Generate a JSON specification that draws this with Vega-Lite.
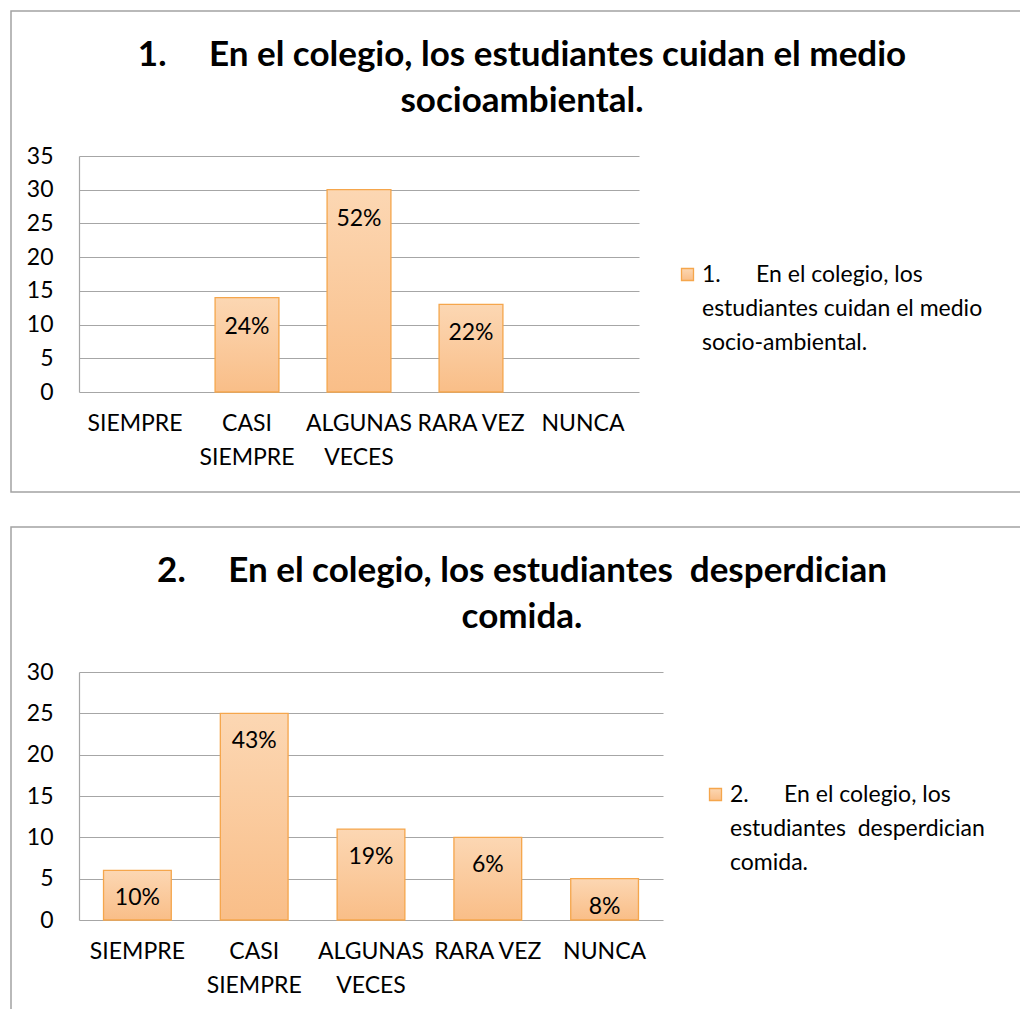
{
  "$schema": "https://vega.github.io/schema/vega-lite/v6.json",
  "padding": {"left": 10, "top": 10, "right": 0, "bottom": 0},
  "background": "white",
  "spacing": 33,
  "resolve": {"scale": {"stroke": "independent"}, "legend": {"stroke": "independent"}},
  "config": {
    "font": "Lato",
    "view": {"stroke": "#a3a3a3", "strokeWidth": 1.5},
    "style": {"guide-label": {"lineHeight": 34}},
    "axis": {"labelFont": "Lato", "labelFontSize": 23, "labelColor": "#000000", "gridColor": "#a6a6a6", "gridWidth": 1.2, "domainColor": "#a6a6a6", "domainWidth": 1.2, "ticks": false, "title": null},
    "legend": {"labelFont": "Lato", "labelFontSize": 23, "labelColor": "#000000"},
    "title": {"font": "Lato", "fontSize": 35, "fontWeight": "bold", "color": "#000000", "anchor": "middle", "baseline": "bottom", "lineHeight": 46, "offset": -108}
  },
  "vconcat": [
    {
      "width": 1022,
      "height": 481,
      "title": {"text": ["1.\u00a0\u00a0\u00a0\u00a0 En el colegio, los estudiantes cuidan el medio", "socioambiental."]},
      "data": {"values": [
        {"cat": "SIEMPRE", "v": 0, "lab": "", "serie": "s1"},
        {"cat": "CASI SIEMPRE", "v": 14, "lab": "24%", "serie": "s1"},
        {"cat": "ALGUNAS VECES", "v": 30, "lab": "52%", "serie": "s1"},
        {"cat": "RARA VEZ", "v": 13, "lab": "22%", "serie": "s1"},
        {"cat": "NUNCA", "v": 0, "lab": "", "serie": "s1"}
      ]},
      "encoding": {
        "x": {"field": "cat", "type": "nominal", "sort": null,
          "scale": {"domain": ["SIEMPRE", "CASI SIEMPRE", "ALGUNAS VECES", "RARA VEZ", "NUNCA"], "range": [68, 628], "paddingInner": 0.43, "paddingOuter": 0.215},
          "axis": {"offset": -100, "domain": false, "labelAngle": 0, "labelPadding": 20, "labelBaseline": "top",
            "labelExpr": "datum.label == 'CASI SIEMPRE' ? ['CASI', 'SIEMPRE'] : datum.label == 'ALGUNAS VECES' ? ['ALGUNAS', 'VECES'] : datum.label"}},
        "y": {"field": "v", "type": "quantitative",
          "scale": {"domain": [0, 35], "range": [381, 145], "nice": false},
          "axis": {"offset": -68, "values": [0, 5, 10, 15, 20, 25, 30, 35], "labelPadding": 26, "grid": true}}
      },
      "layer": [
        {"transform": [{"filter": "datum.v > 0"}],
         "mark": {"type": "bar", "strokeWidth": 1.3,
          "fill": {"gradient": "linear", "x1": 0, "y1": 0, "x2": 0, "y2": 1, "stops": [{"offset": 0, "color": "#fcd7b3"}, {"offset": 1, "color": "#f9be88"}]}},
         "encoding": {"stroke": {"field": "serie", "type": "nominal", "scale": {"range": ["#f5a64c"]},
           "legend": {"title": null, "orient": "none", "legendX": 665, "legendY": 252, "symbolType": "square", "symbolSize": 144, "symbolFillColor": "#fac89a", "symbolStrokeColor": "#f5a64c", "symbolStrokeWidth": 1.3, "labelLimit": 0, "labelOffset": 3,
             "labelExpr": "['1.\u00a0\u00a0\u00a0\u00a0\u00a0 En el colegio, los', 'estudiantes cuidan el medio', 'socio-ambiental.']"}}}},
        {"mark": {"type": "text", "baseline": "middle", "dy": 29, "fontSize": 23, "font": "Lato", "color": "#000000"},
         "encoding": {"text": {"field": "lab"}}}
      ]
    },
    {
      "width": 1022,
      "height": 490,
      "title": {"text": ["2.\u00a0\u00a0\u00a0\u00a0 En el colegio, los estudiantes\u00a0 desperdician", "comida."]},
      "data": {"values": [
        {"cat": "SIEMPRE", "v": 6, "lab": "10%", "serie": "s2"},
        {"cat": "CASI SIEMPRE", "v": 25, "lab": "43%", "serie": "s2"},
        {"cat": "ALGUNAS VECES", "v": 11, "lab": "19%", "serie": "s2"},
        {"cat": "RARA VEZ", "v": 10, "lab": "6%", "serie": "s2"},
        {"cat": "NUNCA", "v": 5, "lab": "8%", "serie": "s2"}
      ]},
      "encoding": {
        "x": {"field": "cat", "type": "nominal", "sort": null,
          "scale": {"domain": ["SIEMPRE", "CASI SIEMPRE", "ALGUNAS VECES", "RARA VEZ", "NUNCA"], "range": [68, 652], "paddingInner": 0.42, "paddingOuter": 0.21},
          "axis": {"offset": -97, "domain": false, "labelAngle": 0, "labelPadding": 20, "labelBaseline": "top",
            "labelExpr": "datum.label == 'CASI SIEMPRE' ? ['CASI', 'SIEMPRE'] : datum.label == 'ALGUNAS VECES' ? ['ALGUNAS', 'VECES'] : datum.label"}},
        "y": {"field": "v", "type": "quantitative",
          "scale": {"domain": [0, 30], "range": [393, 145], "nice": false},
          "axis": {"offset": -68, "values": [0, 5, 10, 15, 20, 25, 30], "labelPadding": 26, "grid": true}}
      },
      "layer": [
        {"mark": {"type": "bar", "strokeWidth": 1.3,
          "fill": {"gradient": "linear", "x1": 0, "y1": 0, "x2": 0, "y2": 1, "stops": [{"offset": 0, "color": "#fcd7b3"}, {"offset": 1, "color": "#f9be88"}]}},
         "encoding": {"stroke": {"field": "serie", "type": "nominal", "scale": {"range": ["#f5a64c"]},
           "legend": {"title": null, "orient": "none", "legendX": 693, "legendY": 256, "symbolType": "square", "symbolSize": 144, "symbolFillColor": "#fac89a", "symbolStrokeColor": "#f5a64c", "symbolStrokeWidth": 1.3, "labelLimit": 0, "labelOffset": 3,
             "labelExpr": "['2.\u00a0\u00a0\u00a0\u00a0\u00a0 En el colegio, los', 'estudiantes\u00a0 desperdician', 'comida.']"}}}},
        {"mark": {"type": "text", "baseline": "middle", "dy": 28, "fontSize": 23, "font": "Lato", "color": "#000000"},
         "encoding": {"text": {"field": "lab"}}}
      ]
    }
  ]
}
